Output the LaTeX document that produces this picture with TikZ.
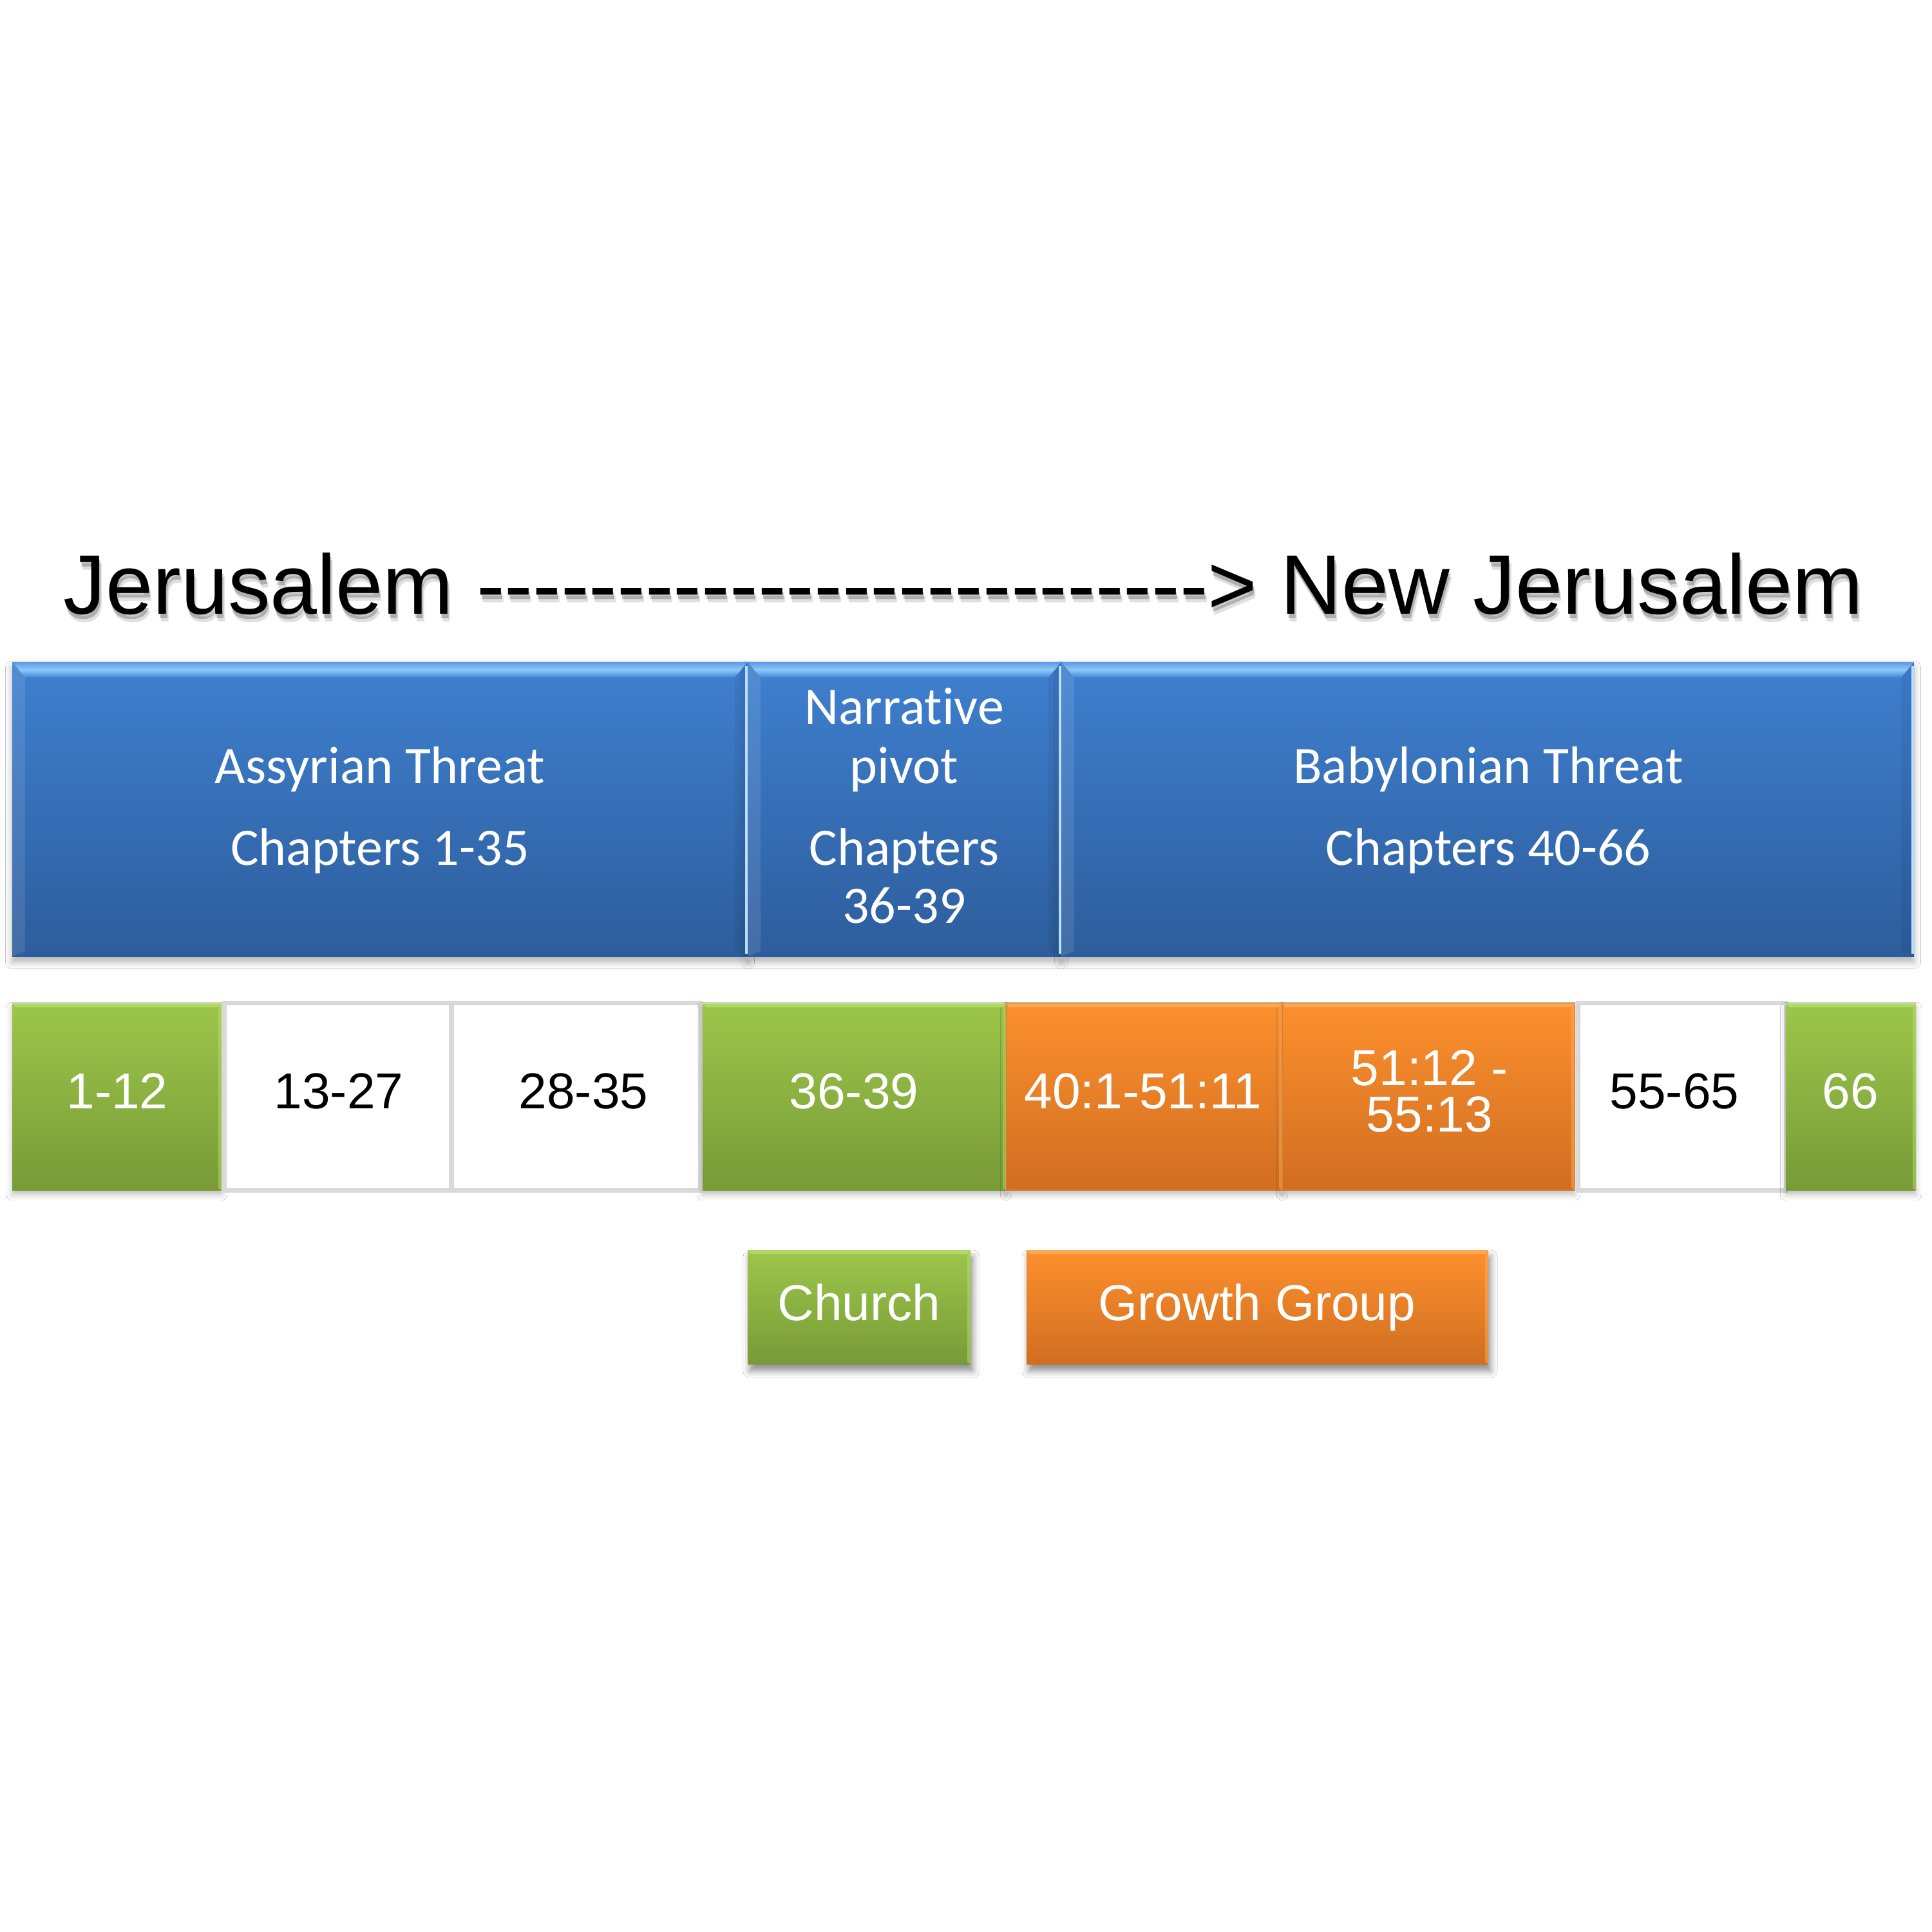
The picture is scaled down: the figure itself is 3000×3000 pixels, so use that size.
\documentclass[tikz,border=0pt]{standalone}
\usepackage{fontspec}
\setmainfont{Liberation Sans}
\newfontfamily\calfont{Carlito}[Ligatures=NoCommon]
\usetikzlibrary{calc,shadows.blur}
\definecolor{blueTop}{HTML}{3F80D0}
\definecolor{blueBot}{HTML}{2D5D9C}
\definecolor{blueEdge}{HTML}{5C9BE3}
\definecolor{blueLight}{HTML}{8CC8FA}
\definecolor{blueMid}{HTML}{4286D4}
\definecolor{greenTop}{HTML}{9DC64B}
\definecolor{greenBot}{HTML}{789B37}
\definecolor{greenHi}{HTML}{B6DE6C}
\definecolor{orangeTop}{HTML}{FD902D}
\definecolor{orangeBot}{HTML}{D06E21}
\definecolor{orangeHi}{HTML}{FFAE5A}
\definecolor{orangeLine}{HTML}{D47A2C}
\definecolor{grayBorder}{HTML}{D9D9D9}
\newcommand\pxnode[6]{%
  \pgfmathsetmacro\pxw{(#5-#3)*0.01}%
  \pgfmathsetmacro\pxh{(#6-#4)*0.01}%
  \node[#2, minimum width=\pxw cm, minimum height=\pxh cm, anchor=north west,
        inner sep=0pt, outer sep=0pt] (#1) at (#3,#4) {};}
\newcommand\bluebevel[1]{%
  \shade[top color=blueEdge, bottom color=blueMid, middle color=blueLight]
    (#1.north west) -- (#1.north east) -- ($(#1.north east)+(-20,24)$)
    -- ($(#1.north west)+(20,24)$) -- cycle;
  \fill[white, opacity=.10] (#1.north west) -- ($(#1.north west)+(20,24)$)
    -- ($(#1.south west)+(20,-8)$) -- (#1.south west) -- cycle;
  \fill[black, opacity=.05] (#1.north east) -- ($(#1.north east)+(-20,24)$)
    -- ($(#1.south east)+(-20,-8)$) -- (#1.south east) -- cycle;
  \draw[blueLight!60!white, line width=1pt] ($(#1.north east)+(-2,6)$) -- ($(#1.south east)+(-2,-4)$);}
\newcommand\hibevel[2]{%
  \fill[#2, opacity=.8] (#1.north west) -- (#1.north east) -- ($(#1.north east)+(-5,6)$)
    -- ($(#1.north west)+(5,6)$) -- cycle;
  \fill[#2, opacity=.5] (#1.north east) -- ($(#1.north east)+(-5,6)$)
    -- ($(#1.south east)+(-5,-3)$) -- (#1.south east) -- cycle;}
\newcommand\hy{{-}}
\newcommand\titletxt{Jerusalem \hy\hy\hy\hy\hy\hy\hy\hy\hy\hy\hy\hy\hy\hy\hy\hy\hy\hy\hy\hy\hy\hy\hy\hy\hy\hy>\ New Jerusalem}
\tikzset{
  bluebox/.style={top color=blueTop, bottom color=blueBot,
    blur shadow={shadow xshift=0pt, shadow yshift=-2.5pt, shadow blur radius=3pt, shadow opacity=30}},
  greenbox/.style={top color=greenTop, bottom color=greenBot,
    blur shadow={shadow xshift=0pt, shadow yshift=-2pt, shadow blur radius=2.5pt, shadow opacity=25}},
  orangebox/.style={top color=orangeTop, bottom color=orangeBot, draw=orangeLine, line width=0.4pt,
    blur shadow={shadow xshift=0pt, shadow yshift=-2pt, shadow blur radius=2.5pt, shadow opacity=25}},
  whitebox/.style={fill=white, draw=grayBorder, line width=2pt},
  legendgreen/.style={top color=greenTop, bottom color=greenBot,
    blur shadow={shadow xshift=1pt, shadow yshift=-3pt, shadow blur radius=3pt, shadow opacity=45}},
  legendorange/.style={top color=orangeTop, bottom color=orangeBot,
    blur shadow={shadow xshift=1pt, shadow yshift=-3pt, shadow blur radius=3pt, shadow opacity=45}},
  titletext/.style={font=\fontsize{37.3}{44}\selectfont, inner sep=0pt, anchor=base},
  bluetext/.style={font=\calfont\fontsize{23.3}{28}\selectfont, text=white, inner sep=0pt, anchor=base},
  rowtext/.style={font=\fontsize{22.3}{26}\selectfont, inner sep=0pt, anchor=base},
  wtext/.style={rowtext, text=white},
  ktext/.style={rowtext, text=black},
}
\begin{document}
\begin{tikzpicture}[x=0.01cm,y=-0.01cm]
\useasboundingbox (0,0) rectangle (3000,3000);
\fill[white] (0,0) rectangle (3000,3000);

% title with soft shadow
\node[titletext, text=black, opacity=.12] (titleshadowb) at (1500,965) {\titletxt};
\node[titletext, text=black, opacity=.22] (titleshadowa) at (1498,960) {\titletxt};
\node[titletext, text=black] (title) at (1496,953) {\titletxt};

% blue section boxes
\pxnode{assyr}{bluebox}{19}{1028}{1161}{1485}
\pxnode{pivot}{bluebox}{1161}{1028}{1648}{1485}
\pxnode{babyl}{bluebox}{1648}{1028}{2972}{1485}
\bluebevel{assyr}
\bluebevel{pivot}
\bluebevel{babyl}

\node[bluetext] (assyrA) at (590,1216) {Assyrian Threat};
\node[bluetext] (assyrB) at (590,1343) {Chapters 1-35};
\node[bluetext] (pivotA) at (1404,1124) {Narrative};
\node[bluetext] (pivotB) at (1404,1216) {pivot};
\node[bluetext] (pivotC) at (1404,1343) {Chapters};
\node[bluetext] (pivotD) at (1404,1433) {36-39};
\node[bluetext] (babylA) at (2311,1216) {Babylonian Threat};
\node[bluetext] (babylB) at (2311,1343) {Chapters 40-66};

% chapter row
\pxnode{c1}{greenbox}{19}{1558}{344}{1848}
\pxnode{c2}{whitebox}{348}{1557}{701}{1848}
\pxnode{c3}{whitebox}{701}{1557}{1087}{1848}
\pxnode{c4}{greenbox}{1091}{1558}{1562}{1848}
\pxnode{c5}{orangebox}{1562}{1558}{1991}{1848}
\pxnode{c6}{orangebox}{1991}{1558}{2445}{1848}
\pxnode{c7}{whitebox}{2450}{1557}{2773}{1848}
\pxnode{c8}{greenbox}{2773}{1558}{2975}{1848}
\hibevel{c1}{greenHi}
\hibevel{c4}{greenHi}
\hibevel{c8}{greenHi}
\hibevel{c5}{orangeHi}
\hibevel{c6}{orangeHi}

\node[wtext] (t1) at (182,1721) {1-12};
\node[ktext] (t2) at (526,1721) {13-27};
\node[ktext] (t3) at (906,1721) {28-35};
\node[wtext] (t4) at (1326,1721) {36-39};
\node[wtext] (t5) at (1775,1721) {40:1-51:11};
\node[wtext] (t6a) at (2220,1685) {51:12 -};
\node[wtext] (t6b) at (2220,1757) {55:13};
\node[ktext] (t7) at (2600,1721) {55-65};
\node[wtext] (t8) at (2873,1721) {66};

% legend
\pxnode{church}{legendgreen}{1161}{1941}{1507}{2118}
\pxnode{growth}{legendorange}{1594}{1941}{2311}{2118}
\hibevel{church}{greenHi}
\hibevel{growth}{orangeHi}
\node[wtext] (churchT) at (1334,2050) {Church};
\node[wtext] (growthT) at (1952,2050) {Growth Group};
\end{tikzpicture}
\end{document}
